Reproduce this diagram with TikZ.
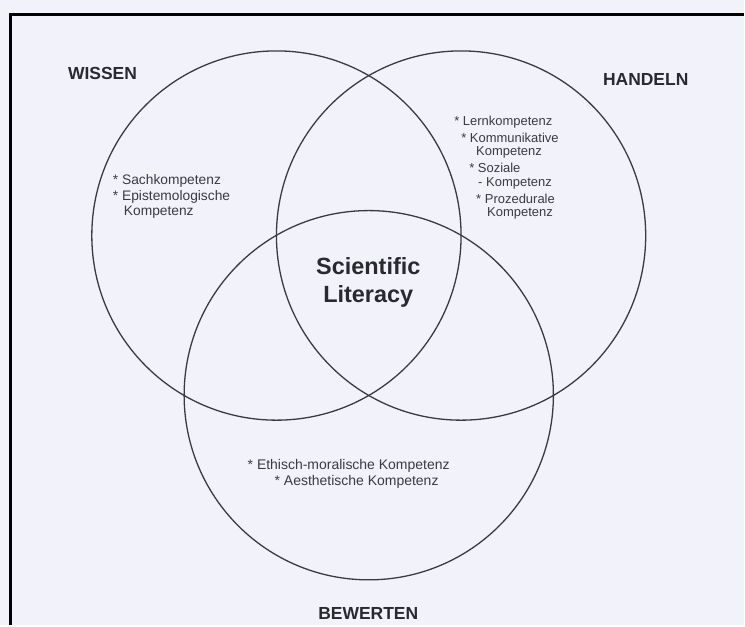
\documentclass[tikz,border=0pt]{standalone}
\usepackage{fontspec}
\setmainfont{Liberation Sans}
\usetikzlibrary{positioning,calc}
\definecolor{paper}{RGB}{241,242,250}
\definecolor{ink}{RGB}{58,58,66}

\begin{document}
\begin{tikzpicture}[x=1pt,y=-1pt,
	ring/.style={draw=ink, line width=1.3pt},
	head/.style={font=\bfseries\fontsize{17.5}{20}\selectfont, text=ink!70!black, inner sep=0pt},
	item/.style={font=\fontsize{13}{15}\selectfont, text=ink, inner sep=0pt, anchor=west}]
	\fill[paper] (0,0) rectangle (745,626);
	\draw[line width=3pt] (10.5,626) -- (10.5,15) -- (745,15);
	
	\coordinate (w) at (277,236);
	\coordinate (h) at (462,236);
	\coordinate (b) at ($(w)!0.5!(h)+(0,160)$);
	
	\draw[ring] (w) circle[radius=185pt];
	\draw[ring] (h) circle[radius=185pt];
	\draw[ring] (b) circle[radius=185pt];
	
	\node[head, anchor=west] (wissen) at (68,74) {WISSEN};
	\node[head, anchor=east] (handeln) at (690,80) {HANDELN};
	\node[head] (bewerten) at (369,615) {BEWERTEN};
	
	\node[font=\bfseries\fontsize{23.5}{29}\selectfont, text=ink!70!black, align=center] (sl) at (369,283) {Scientific\\Literacy};
	
	\node[item, font=\fontsize{13.8}{16}\selectfont] (w1) at (113,181) {* Sachkompetenz};
	\node[item, font=\fontsize{13.8}{16}\selectfont] (w2) at (113,197) {* Epistemologische};
	\node[item, font=\fontsize{13.8}{16}\selectfont] (w3) at (124,213) {Kompetenz};
	
	\node[item] (h1) at (455,122) {* Lernkompetenz};
	\node[item] (h2) at (462,138) {* Kommunikative};
	\node[item] (h3) at (477,153) {Kompetenz};
	\node[item] (h4) at (470,168) {* Soziale};
	\node[item] (h5) at (479,184) {- Kompetenz};
	\node[item] (h6) at (477,199) {* Prozedurale};
	\node[item] (h7) at (488,214) {Kompetenz};
	
	\node[item, font=\fontsize{14}{16}\selectfont] (b1) at (248,467) {* Ethisch-moralische Kompetenz};
	\node[item, font=\fontsize{14}{16}\selectfont] (b2) at (275,483) {* Aesthetische Kompetenz};
\end{tikzpicture}
\end{document}
